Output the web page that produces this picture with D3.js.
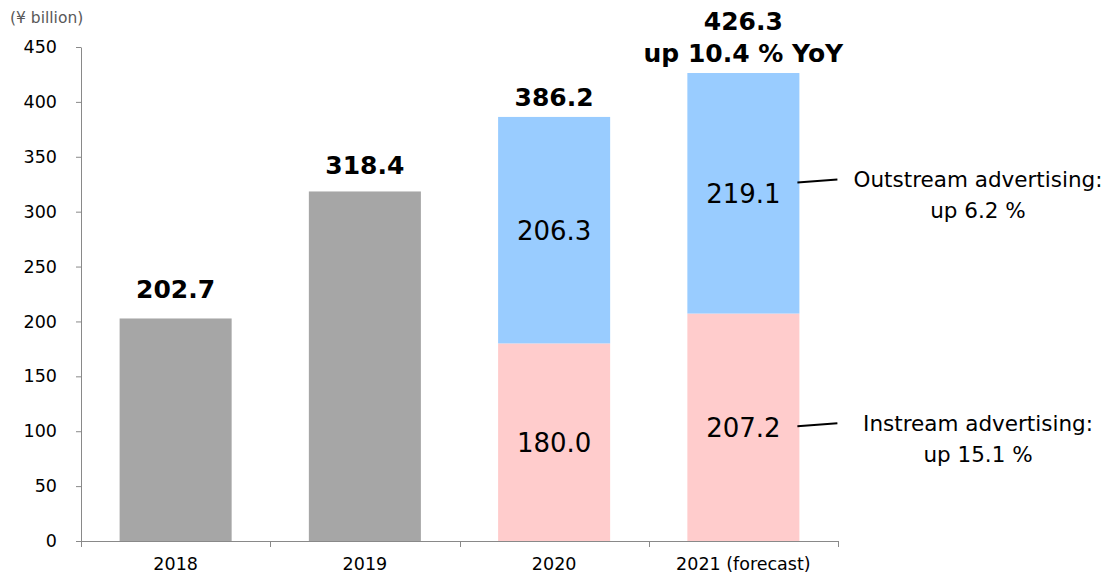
<!DOCTYPE html>
<html>
<head>
<meta charset="utf-8">
<script src="https://cdn.jsdelivr.net/npm/d3@7"></script>
<style>
  body { margin: 0; background: #fff; }
  text { font-family: "DejaVu Sans", Verdana, sans-serif; }
</style>
</head>
<body>
<div id="chart"></div>
<script>
// data (¥ billion)
var years = ["2018", "2019", "2020", "2021 (forecast)"];
var totals = [202.7, 318.4, 386.2, 426.3];
var instream = [null, null, 180.0, 207.2];
var outstream = [null, null, 206.3, 219.1];
var yTicks = [0, 50, 100, 150, 200, 250, 300, 350, 400, 450];
var totalLabels = ["202.7", "318.4", "386.2", "426.3"];
var growthNote = "up 10.4 % YoY";
var outNote = ["Outstream advertising:", "up 6.2 %"];
var inNote = ["Instream advertising:", "up 15.1 %"];

var svgWidth = 1116;
var svgHeight = 576;

// plot area (window.top is reserved, so prefix these)
var plotLeft = 81, plotRight = 838, plotBottom = 541, plotTop = 47;
var axisColor = "#898989";

var svg = d3.select("#chart")
  .append("svg")
  .attr("width", svgWidth)
  .attr("height", svgHeight);

var x = d3.scaleBand()
  .domain(years)
  .range([plotLeft, plotRight])
  .paddingInner(0.408)
  .paddingOuter(0.204);

var y = d3.scaleLinear()
  .domain([0, 450])
  .range([plotBottom, plotTop]);

// bars: gray for total-only years, stacked for the split years
years.forEach(function(yr, i) {
  if (instream[i] == null) {
    svg.append("rect")
      .attr("x", x(yr))
      .attr("y", y(totals[i]))
      .attr("width", x.bandwidth())
      .attr("height", y(0) - y(totals[i]))
      .attr("fill", "#a6a6a6");
  } else {
    svg.append("rect")
      .attr("x", x(yr))
      .attr("y", y(instream[i]))
      .attr("width", x.bandwidth())
      .attr("height", y(0) - y(instream[i]))
      .attr("fill", "#ffcccc");
    svg.append("rect")
      .attr("x", x(yr))
      .attr("y", y(instream[i] + outstream[i]))
      .attr("width", x.bandwidth())
      .attr("height", y(instream[i]) - y(instream[i] + outstream[i]))
      .attr("fill", "#99ccff");

    // segment labels
    svg.append("text")
      .attr("x", x(yr) + x.bandwidth() / 2)
      .attr("y", y(instream[i] / 2))
      .attr("dy", "0.36em")
      .attr("text-anchor", "middle")
      .attr("font-size", "26px")
      .attr("fill", "#000")
      .text(instream[i].toFixed(1));
    svg.append("text")
      .attr("x", x(yr) + x.bandwidth() / 2)
      .attr("y", y(instream[i] + outstream[i] / 2))
      .attr("dy", "0.36em")
      .attr("text-anchor", "middle")
      .attr("font-size", "26px")
      .attr("fill", "#000")
      .text(outstream[i].toFixed(1));
  }
});

// total labels above bars
var labelGap = [20, 17, 11, 43];
years.forEach(function(yr, i) {
  svg.append("text")
    .attr("x", x(yr) + x.bandwidth() / 2)
    .attr("y", y(totals[i]) - labelGap[i])
    .attr("text-anchor", "middle")
    .attr("font-size", "25px")
    .attr("font-weight", "bold")
    .attr("fill", "#000")
    .text(totalLabels[i]);
});
svg.append("text")
  .attr("x", x(years[3]) + x.bandwidth() / 2)
  .attr("y", y(totals[3]) - 11)
  .attr("text-anchor", "middle")
  .attr("font-size", "25px")
  .attr("font-weight", "bold")
  .attr("fill", "#000")
  .text(growthNote);

// y axis
var yAxis = svg.append("g")
  .attr("transform", "translate(" + plotLeft + ",0)")
  .call(d3.axisLeft(y).tickValues(yTicks).tickSize(5).tickSizeOuter(0).tickPadding(19));
yAxis.select(".domain").attr("stroke", axisColor);
yAxis.selectAll(".tick line").attr("stroke", axisColor);
yAxis.selectAll("text")
  .attr("font-size", "17.5px")
  .attr("font-family", "DejaVu Sans, Verdana, sans-serif")
  .attr("fill", "#000");

// x axis: labels centred, tick marks at category boundaries
var xAxis = svg.append("g")
  .attr("transform", "translate(0," + plotBottom + ")")
  .call(d3.axisBottom(x).tickSize(0).tickSizeOuter(0).tickPadding(17));
xAxis.select(".domain").remove();
xAxis.selectAll("text")
  .attr("font-size", "17.5px")
  .attr("font-family", "DejaVu Sans, Verdana, sans-serif")
  .attr("fill", "#000");

svg.append("line")
  .attr("x1", plotLeft - 5).attr("x2", plotRight)
  .attr("y1", plotBottom + 0.5).attr("y2", plotBottom + 0.5)
  .attr("stroke", axisColor);

var bounds = years.map(function(yr) { return x(yr) - x.step() * x.paddingInner() / 2; });
bounds.push(plotRight);
bounds[0] = plotLeft;
svg.selectAll(".xb")
  .data(bounds)
  .enter()
  .append("line")
  .attr("class", "xb")
  .attr("x1", d => Math.round(d) + 0.5).attr("x2", d => Math.round(d) + 0.5)
  .attr("y1", plotBottom).attr("y2", plotBottom + 6)
  .attr("stroke", axisColor);

// unit label
svg.append("text")
  .attr("x", 10)
  .attr("y", 23)
  .attr("font-size", "15.5px")
  .attr("fill", "#595959")
  .text("(¥ billion)");

// callouts for 2021 segments
var barRight = x(years[3]) + x.bandwidth();
function callout(yStart, lines) {
  svg.append("line")
    .attr("x1", barRight - 2).attr("x2", barRight + 38)
    .attr("y1", yStart).attr("y2", yStart - 3)
    .attr("stroke", "#000")
    .attr("stroke-width", 2);
  lines.forEach(function(t, k) {
    svg.append("text")
      .attr("x", 978)
      .attr("y", yStart + 5 + k * 31)
      .attr("text-anchor", "middle")
      .attr("font-size", "21.5px")
      .attr("fill", "#000")
      .text(t);
  });
}
callout(y(instream[3] + outstream[3] * 0.545), outNote);
callout(y(instream[3] / 2) - 1, inNote);
</script>
</body>
</html>
